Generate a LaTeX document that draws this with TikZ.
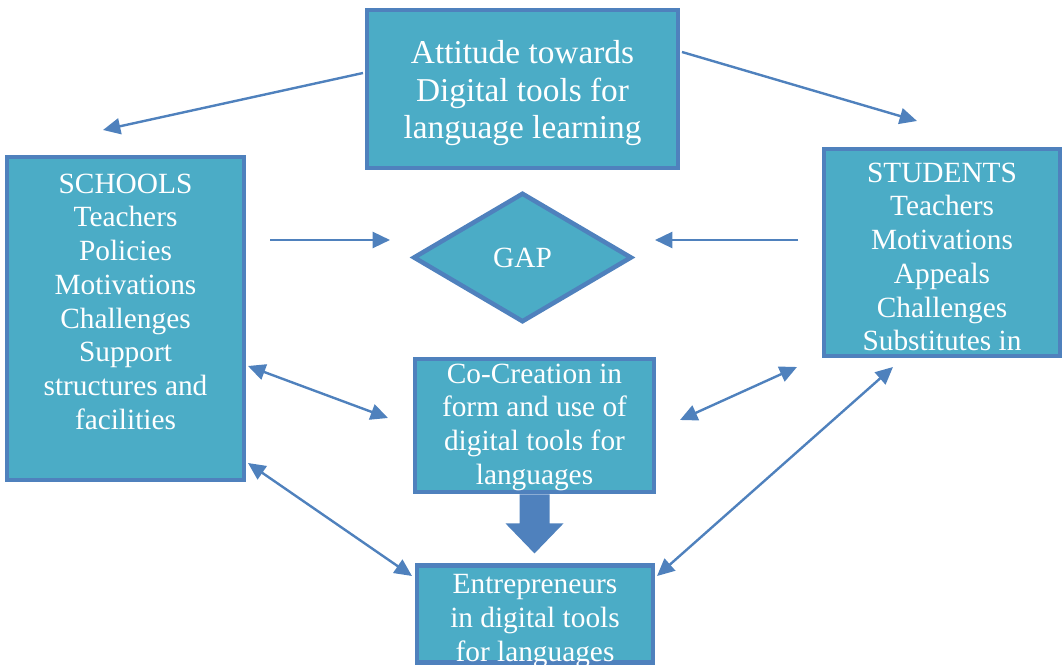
\documentclass[tikz,border=0pt]{standalone}
\usepackage{fontspec}
\setmainfont{Liberation Serif}
\usetikzlibrary{shapes.geometric,arrows.meta,positioning}

\definecolor{boxfill}{HTML}{4BACC6}
\definecolor{edgeblue}{HTML}{4F81BD}

\begin{document}
\begin{tikzpicture}[
              x=0.75pt, y=-0.75pt,
              box/.style={
                  draw=edgeblue,
                  fill=boxfill,
                  line width=3.4pt,
                  inner sep=0pt,
                  text=white,
                  align=center,
                  font=\fontsize{22}{25.3}\selectfont,
                },
              label/.style={
                  text=white,
                  align=center,
                  font=\fontsize{22}{25.3}\selectfont,
                },
              link/.style={
                  color=edgeblue,
                  line width=1.8pt,
                  -{Triangle[length=13pt,width=12pt]},
                },
              twoway/.style={
                  link,
                  {Triangle[length=13pt,width=12pt]}-{Triangle[length=13pt,width=12pt]},
                }
            ]
            \useasboundingbox (0,0) rectangle (1064,666);
            \node[box,minimum width=233pt,minimum height=118.5pt] (attitude) at (522.5,89) {};
            \node[label,anchor=north,font=\fontsize{25}{28.1}\selectfont] (attitudeText) at (522.5,36)
                  {Attitude towards\\Digital tools for\\language learning};
            \node[box,minimum width=178pt,minimum height=242pt] (schools) at (125.5,318.5) {};
            \node[label,anchor=north] (schoolsText) at (125.5,169)
                  {SCHOOLS\\Teachers\\Policies\\Motivations\\Challenges\\Support\\structures and\\facilities};
            \node[box,minimum width=177pt,minimum height=155pt] (students) at (942,252.5) {};
            \node[label,anchor=north] (studentsText) at (942,158)
                  {STUDENTS\\Teachers\\Motivations\\Appeals\\Challenges\\Substitutes in};
            \node[box,diamond,minimum width=164pt,minimum height=97pt] (gap) at (522.5,257.5) {GAP};
            \node[box,minimum width=179pt,minimum height=100pt] (cocreation) at (534.5,425.5) {};
            \node[label,anchor=north] (cocreationText) at (534.5,359)
                  {Co-Creation in\\form and use of\\digital tools for\\languages};
            \node[box,minimum width=177pt,minimum height=73pt] (entre) at (535,614) {};
            \node[label,anchor=north] (entreText) at (535,570)
                  {Entrepreneurs\\in digital tools\\for languages};
            % block arrow from co-creation down to entrepreneurs
            \fill[edgeblue] (cocreation.south) ++(-15,0) -- ++(0,29) -- ++(-14,0)
                  -- ++(29,30) -- ++(29,-30) -- ++(-14,0) -- ++(0,-29) -- cycle;
            % free ends of the thin arrows
            \coordinate (a1) at (363,73);  \coordinate (a2) at (103,130);
            \coordinate (b1) at (682,52);  \coordinate (b2) at (917,121);
            \coordinate (c1) at (270,240); \coordinate (c2) at (390,240);
            \coordinate (d1) at (798,240); \coordinate (d2) at (655,240);
            \coordinate (e1) at (248,366); \coordinate (e2) at (388,418);
            \coordinate (f1) at (680,420); \coordinate (f2) at (797,367);
            \coordinate (g1) at (248,463); \coordinate (g2) at (412,576);
            \coordinate (h1) at (657,576); \coordinate (h2) at (893,367);
            \path
            (a1) edge[link] (a2)
            (b1) edge[link] (b2)
            (c1) edge[link] (c2)
            (d1) edge[link] (d2)
            (e1) edge[twoway] (e2)
            (f1) edge[twoway] (f2)
            (g1) edge[twoway] (g2)
            (h1) edge[twoway] (h2)
            ;
          \end{tikzpicture}
\end{document}
